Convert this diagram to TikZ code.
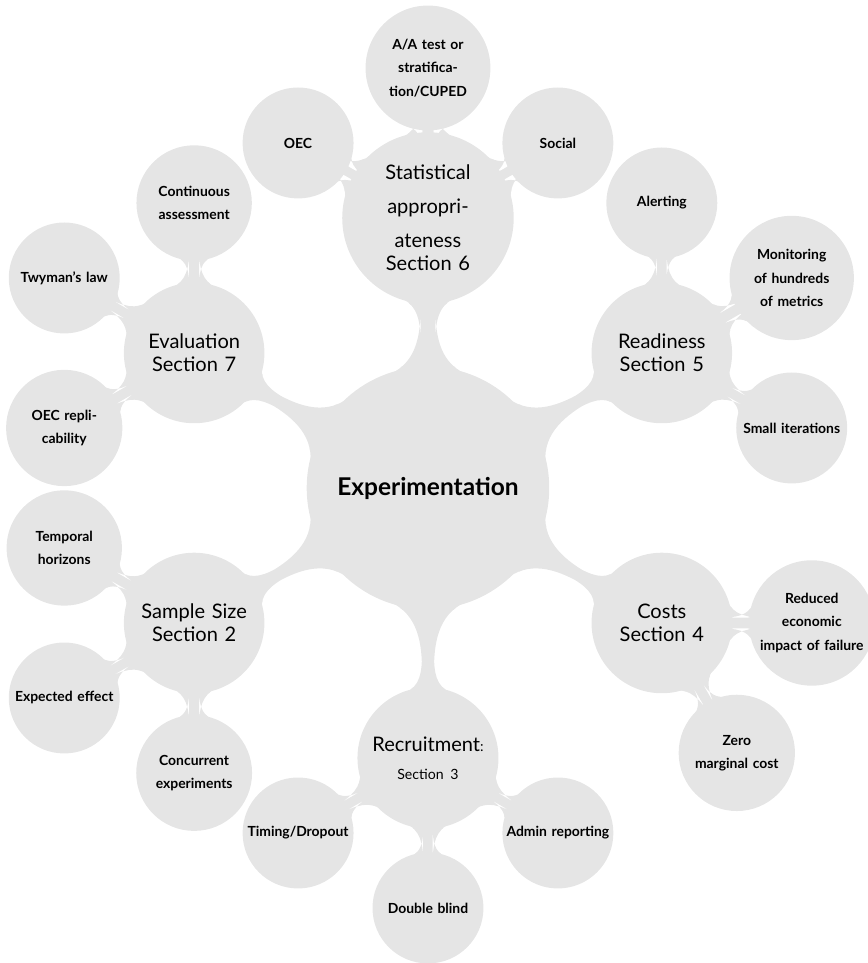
\documentclass[tikz,border=0pt]{standalone}
\usepackage{fontspec}
\setmainfont{Lato}
\usetikzlibrary{mindmap}

\begin{document}
\begin{tikzpicture}[mindmap, concept color=gray!20]
\tikzstyle{rootConcept} = [concept, text=black, minimum size=4cm, text width=3.8cm,
   inner sep=0pt, font=\fontsize{11.6}{11}\selectfont\bfseries]
\tikzstyle{secConcept} = [concept, text=black, minimum size=2.3cm, text width=2.2cm,
   inner sep=0pt, font=\fontsize{9.5}{11}\selectfont]
\tikzstyle{subConcept} = [concept, text=black, minimum size=1.8cm, text width=1.8cm,
   inner sep=0pt, font=\fontsize{6.6}{11}\selectfont\bfseries]
\tikzstyle{bigBar} = [circle connection bar switch color=from (gray!20) to (gray!20)]
\tikzstyle{smallBar} = [circle connection bar switch color=from (gray!20) to (gray!20), line width=0.6mm]
\useasboundingbox (-7.133,-7.917) rectangle (7.333,8.133);

\node[rootConcept] at (0,0) (exp) {Experimentation};

\node[secConcept, font=\fontsize{9.5}{16.1}\selectfont] at (90:4.5) (stat)
   {Statistical\\ appropri-\\ ateness\\[-5.2pt] Section 6};
\node[secConcept] at (30:4.5) (ready) {Readiness\\ Section 5};
\node[secConcept] at (-30:4.5) (costs) {Costs\\ Section 4};
\node[secConcept] at (-90:4.5) (recruit) {Recruitment{\fontsize{6.7}{11}\selectfont:}\\[2.2pt]
   {\fontsize{6.7}{11}\selectfont Section 3}};
\node[secConcept] at (210:4.5) (sample) {Sample Size\\ Section 2};
\node[secConcept] at (150:4.5) (eval) {Evaluation\\ Section 7};

% statistical appropriateness
\node[subConcept] at ([shift={(150:2.5)}]stat.center) (oec) {OEC};
\node[subConcept] at ([shift={(90:2.5)}]stat.center) (aatest) {A/A test or\\ stratifica-\\ tion/CUPED};
\node[subConcept] at ([shift={(30:2.5)}]stat.center) (social) {Social};
% readiness
\node[subConcept] at ([shift={(90:2.5)}]ready.center) (alert) {Alerting};
\node[subConcept] at ([shift={(30:2.5)}]ready.center) (monitor) {Monitoring\\ of hundreds\\ of metrics};
\node[subConcept] at ([shift={(-30:2.5)}]ready.center) (iter) {Small iterations};
% costs
\node[subConcept] at ([shift={(0:2.5)}]costs.center) (failure) {Reduced\\ economic\\ impact of failure};
\node[subConcept] at ([shift={(-60:2.5)}]costs.center) (zerocost) {Zero\\ marginal cost};
% recruitment
\node[subConcept] at ([shift={(-30:2.5)}]recruit.center) (admin) {Admin reporting};
\node[subConcept] at ([shift={(-90:2.5)}]recruit.center) (blind) {Double blind};
\node[subConcept] at ([shift={(210:2.5)}]recruit.center) (timing) {Timing/Dropout};
% sample size
\node[subConcept] at ([shift={(270:2.5)}]sample.center) (concur) {Concurrent\\ experiments};
\node[subConcept] at ([shift={(210:2.5)}]sample.center) (effect) {Expected effect};
\node[subConcept] at ([shift={(150:2.5)}]sample.center) (horizon) {Temporal\\ horizons};
% evaluation
\node[subConcept] at ([shift={(210:2.5)}]eval.center) (oecrep) {OEC repli-\\ cability};
\node[subConcept] at ([shift={(150:2.5)}]eval.center) (twyman) {Twyman's law};
\node[subConcept] at ([shift={(90:2.5)}]eval.center) (contin) {Continuous\\ assessment};

\foreach \sec in {stat,ready,costs,recruit,sample,eval}
  \path (exp) to[bigBar] (\sec);

\path (stat) to[smallBar] (oec);
\path (stat) to[smallBar] (aatest);
\path (stat) to[smallBar] (social);
\path (ready) to[smallBar] (alert);
\path (ready) to[smallBar] (monitor);
\path (ready) to[smallBar] (iter);
\path (costs) to[smallBar] (failure);
\path (costs) to[smallBar] (zerocost);
\path (recruit) to[smallBar] (admin);
\path (recruit) to[smallBar] (blind);
\path (recruit) to[smallBar] (timing);
\path (sample) to[smallBar] (concur);
\path (sample) to[smallBar] (effect);
\path (sample) to[smallBar] (horizon);
\path (eval) to[smallBar] (oecrep);
\path (eval) to[smallBar] (twyman);
\path (eval) to[smallBar] (contin);
\end{tikzpicture}
\end{document}
